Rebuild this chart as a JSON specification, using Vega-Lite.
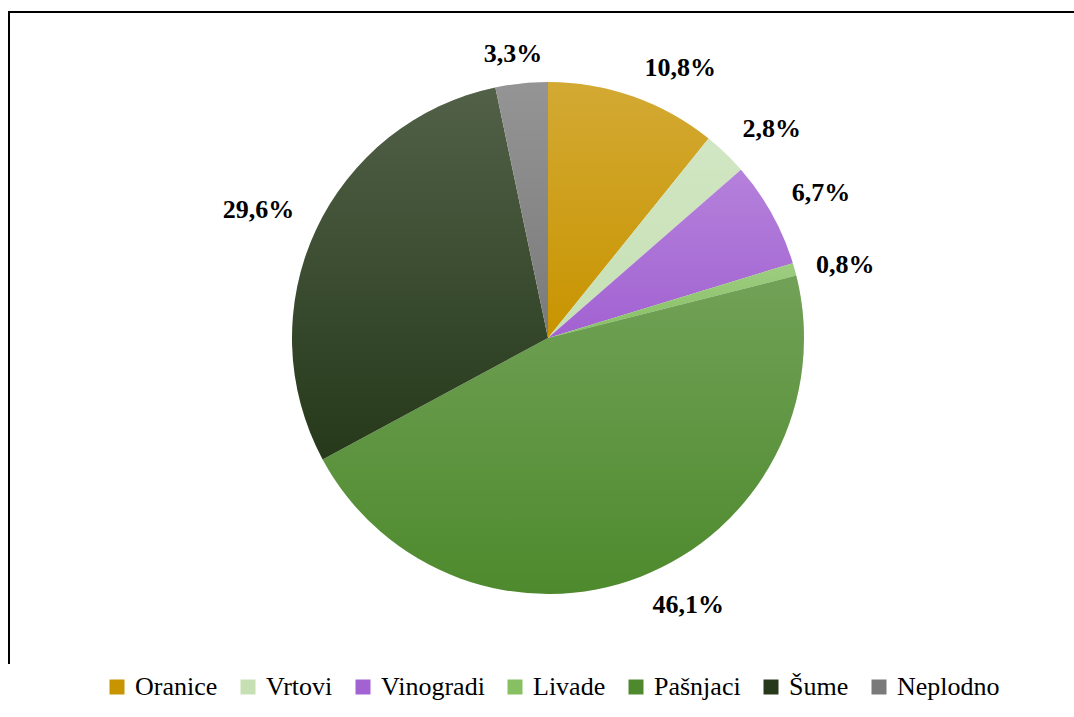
{
  "$schema": "https://vega.github.io/schema/vega-lite/v6.json",
  "width": 1078,
  "height": 652,
  "padding": {"left": 9, "top": 12, "right": 0, "bottom": 60},
  "autosize": {"type": "none"},
  "background": "white",
  "view": {"stroke": "#000000", "strokeWidth": 2, "strokeDash": [1730, 1078, 652]},
  "data": {
    "values": [
      {"category": "Oranice", "value": 10.8, "label": "10,8%", "order": 1},
      {"category": "Vrtovi", "value": 2.8, "label": "2,8%", "order": 2},
      {"category": "Vinogradi", "value": 6.7, "label": "6,7%", "order": 3},
      {"category": "Livade", "value": 0.8, "label": "0,8%", "order": 4},
      {"category": "Pašnjaci", "value": 46.1, "label": "46,1%", "order": 5},
      {"category": "Šume", "value": 29.6, "label": "29,6%", "order": 6},
      {"category": "Neplodno", "value": 3.3, "label": "3,3%", "order": 7}
    ]
  },
  "encoding": {
    "theta": {"field": "value", "type": "quantitative", "stack": true},
    "order": {"field": "order", "type": "quantitative"}
  },
  "layer": [
    {
      "mark": {"type": "arc", "outerRadius": 256, "strokeWidth": 0},
      "encoding": {
        "color": {
          "field": "category",
          "type": "nominal",
          "sort": null,
          "scale": {
            "domain": ["Oranice", "Vrtovi", "Vinogradi", "Livade", "Pašnjaci", "Šume", "Neplodno"],
            "range": ["#C89400", "#C6E0B4", "#A262D2", "#86C062", "#4E8A2D", "#26391A", "#7A7A7A"]
          },
          "legend": {
            "title": null,
            "orient": "none",
            "legendX": 95,
            "legendY": 662,
            "direction": "horizontal",
            "columns": 7,
            "symbolType": "square",
            "symbolSize": 225,
            "symbolStrokeWidth": 0,
            "labelFont": "Liberation Serif",
            "labelFontSize": 26,
            "labelColor": "#000000",
            "labelOffset": 5,
            "columnPadding": 17,
            "padding": 0,
            "labelLimit": 300
          }
        }
      }
    },
    {
      "mark": {
        "type": "arc",
        "outerRadius": 256,
        "strokeWidth": 0,
        "fill": {
          "gradient": "linear",
          "x1": 0, "y1": 0, "x2": 0, "y2": 1,
          "stops": [
            {"offset": 0, "color": "rgba(255,255,255,0.2)"},
            {"offset": 1, "color": "rgba(255,255,255,0)"}
          ]
        }
      }
    },
    {
      "mark": {
        "type": "text",
        "radius": 272,
        "font": "Liberation Serif",
        "fontSize": 26,
        "fontWeight": "bold",
        "color": "#000000",
        "dx": {"expr": "sin((datum.value_start + datum.value_end) / 2 / 100.1 * 2 * PI) > 0 ? 6 : -7"},
        "align": {"expr": "sin((datum.value_start + datum.value_end) / 2 / 100.1 * 2 * PI) > 0.25 ? 'left' : (sin((datum.value_start + datum.value_end) / 2 / 100.1 * 2 * PI) < -0.25 ? 'right' : 'center')"},
        "baseline": {"expr": "cos((datum.value_start + datum.value_end) / 2 / 100.1 * 2 * PI) > 0.3 ? 'bottom' : (cos((datum.value_start + datum.value_end) / 2 / 100.1 * 2 * PI) < -0.3 ? 'top' : 'middle')"}
      },
      "encoding": {
        "text": {"field": "label", "type": "nominal"}
      }
    }
  ]
}
